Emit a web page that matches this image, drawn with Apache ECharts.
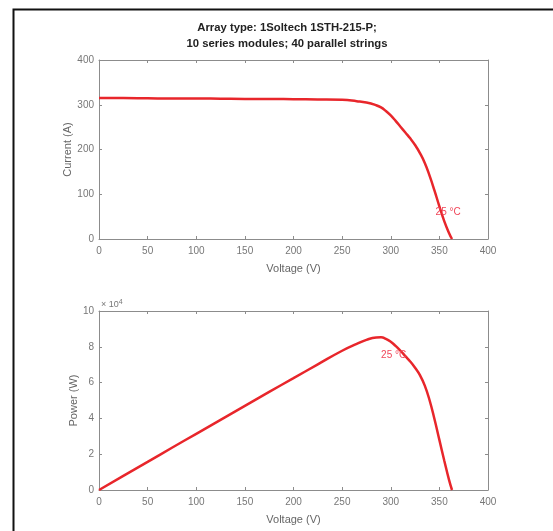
<!DOCTYPE html>
<html><head><meta charset="utf-8">
<script src="https://cdn.jsdelivr.net/npm/echarts@6/dist/echarts.min.js"></script>
<style>html,body{margin:0;padding:0;background:#fff}#c{width:553px;height:531px}</style>
</head><body><div id="c"></div>
<script>
const titleLines = ['Array type: 1Soltech 1STH-215-P;', '10 series modules; 40 parallel strings'];
const xTicks = [0, 50, 100, 150, 200, 250, 300, 350, 400];
const voltage = [0, 25, 50, 75, 100, 125, 150, 175, 200, 225, 250, 265, 275, 285, 290, 295, 300, 305, 310, 315, 320, 325, 330, 335, 340, 345, 350, 355, 360, 363];
const current = [315, 315, 314.5, 314, 314, 313.5, 313, 313, 312.5, 312, 311, 308, 305, 299, 294, 286, 276, 264, 251, 238, 225, 210, 192, 170, 141, 108, 73, 40, 13, 0];
const power = [0, 7900, 15700, 23600, 31400, 39200, 47000, 54800, 62500, 70200, 77800, 81600, 83900, 85200, 85300, 84400, 82800, 80500, 77800, 74800, 71800, 68300, 64200, 58300, 50000, 39500, 28000, 16500, 5500, 0];
const curveLabel = '25 °C';

const red = '#e8262b';
const grey = '#8c8c8c';
const font = 'Liberation Sans, Arial, sans-serif';
const ivData = voltage.map((v, i) => [v, current[i]]);
const pvData = voltage.map((v, i) => [v, power[i]]);

function xAx(grid, labels, pos) {
  return {
    type: 'value', gridIndex: grid, min: 0, max: 400, interval: 50, position: pos,
    axisLine: { show: true, onZero: false, lineStyle: { color: grey, width: 1 } },
    axisTick: { show: true, inside: true, length: 3, lineStyle: { color: grey } },
    axisLabel: { show: labels, color: '#777', fontSize: 10, fontFamily: font, margin: 7 },
    splitLine: { show: false },
    name: labels ? 'Voltage (V)' : '', nameLocation: 'middle', nameGap: 24,
    nameTextStyle: { color: '#666', fontSize: 11, fontFamily: font }
  };
}
function yAx(grid, labels, pos, max, interval, name, fmt, gap) {
  return {
    type: 'value', gridIndex: grid, min: 0, max: max, interval: interval, position: pos,
    axisLine: { show: true, onZero: false, lineStyle: { color: grey, width: 1 } },
    axisTick: { show: true, inside: true, length: 3, lineStyle: { color: grey } },
    axisLabel: { show: labels, color: '#777', fontSize: 10, fontFamily: font, margin: 5, formatter: fmt },
    splitLine: { show: false },
    name: labels ? name : '', nameLocation: 'middle', nameGap: gap, nameRotate: 90, nameMoveOverlap: false,
    nameTextStyle: { color: '#666', fontSize: 11, fontFamily: font }
  };
}
function lbl(coord) {
  return { symbol: 'circle', symbolSize: 0, data: [{ coord: coord }],
    label: { show: true, position: 'inside', formatter: curveLabel, color: '#f0475a', fontSize: 10, fontFamily: font } };
}

const chart = echarts.init(document.getElementById('c'), null, { renderer: 'canvas' });
chart.setOption({
  backgroundColor: '#fff',
  animation: false,
  title: {
    text: titleLines.join('\n'), left: 282, top: 15, textAlign: 'center',
    textStyle: { fontSize: 11.3, fontWeight: 'bold', color: '#222', fontFamily: font, lineHeight: 16 }
  },
  grid: [
    { left: 99, top: 60, width: 389, height: 179 },
    { left: 99, top: 311, width: 389, height: 179 }
  ],
  xAxis: [xAx(0, true, 'bottom'), xAx(0, false, 'top'), xAx(1, true, 'bottom'), xAx(1, false, 'top')],
  yAxis: [
    yAx(0, true, 'left', 400, 100, 'Current (A)', v => v, 26),
    yAx(0, false, 'right', 400, 100, '', v => v, 26),
    yAx(1, true, 'left', 100000, 20000, 'Power (W)', v => v / 10000, 20),
    yAx(1, false, 'right', 100000, 20000, '', v => v / 10000, 20)
  ],
  series: [
    { type: 'line', xAxisIndex: 0, yAxisIndex: 0, data: ivData, smooth: 0.5, showSymbol: false,
      lineStyle: { color: red, width: 2.5 }, markPoint: lbl([359, 59]) },
    { type: 'line', xAxisIndex: 2, yAxisIndex: 2, data: pvData, smooth: 0.5, showSymbol: false,
      lineStyle: { color: red, width: 2.5 }, markPoint: lbl([303, 75400]) }
  ],
  graphic: [
    { type: 'polyline', shape: { points: [[13.5, 540], [13.5, 9.5], [560, 9.5]] }, style: { stroke: '#111', lineWidth: 2, fill: null } },
    { type: 'text', left: 101, top: 299, style: { text: '× 10{s|4}', fill: '#777', font: '9px ' + font, rich: { s: { fontSize: 7, verticalAlign: 'top', padding: [0, 0, 5, 0] } } } }
  ]
});
</script>
</body></html>
